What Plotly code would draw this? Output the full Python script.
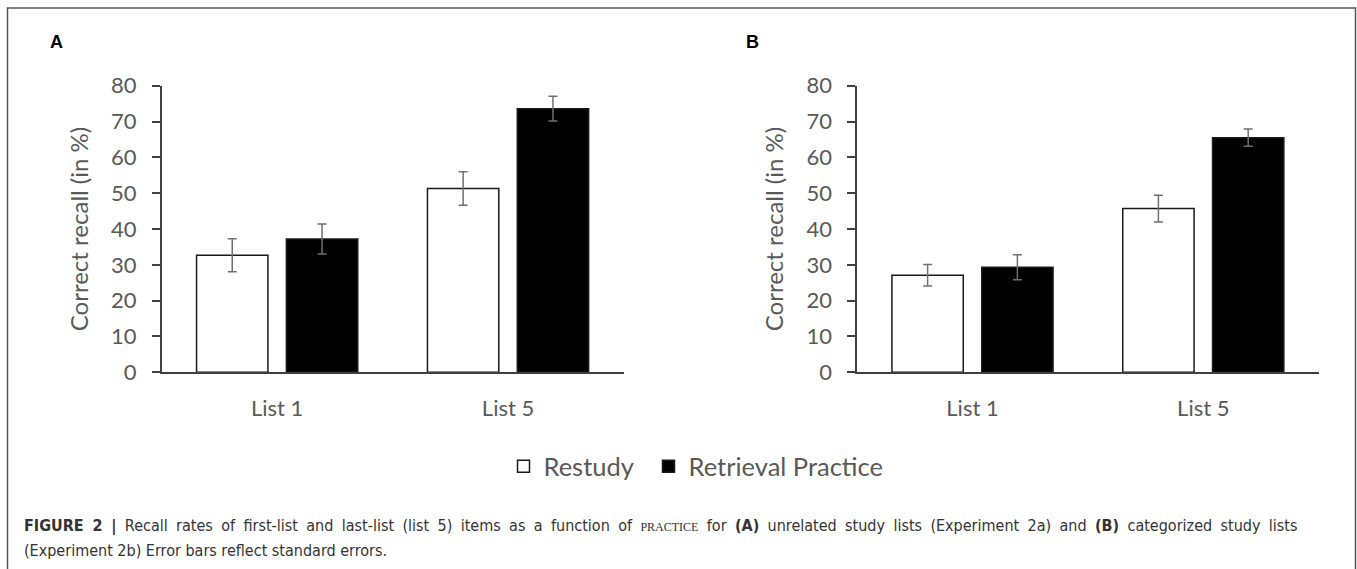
import plotly.graph_objects as go

W, H = 1357, 569

categories = ["List 1", "List 5"]
series_names = ["Restudy", "Retrieval Practice"]

# Panel A: unrelated study lists (Experiment 2a)
a_restudy = [32.7, 51.3]
a_restudy_se = [4.6, 4.65]
a_retrieval = [37.2, 73.6]
a_retrieval_se = [4.2, 3.45]

# Panel B: categorized study lists (Experiment 2b)
b_restudy = [27.1, 45.7]
b_restudy_se = [3.0, 3.75]
b_retrieval = [29.3, 65.5]
b_retrieval_se = [3.5, 2.4]

y_ticks = [0, 10, 20, 30, 40, 50, 60, 70, 80]

GRAY = "#595959"
AXIS = "#404040"
TICKFONT = "Lato, Calibri, 'Open Sans', sans-serif"
CAPFONT = "'Liberation Sans Narrow', 'DejaVu Sans Condensed', Arial, sans-serif"


def px_x(v):
    return v / W


def px_y(v):
    return 1 - v / H


fig = go.Figure()

panels = [
    ("x", "y", a_restudy, a_restudy_se, a_retrieval, a_retrieval_se, True),
    ("x2", "y2", b_restudy, b_restudy_se, b_retrieval, b_retrieval_se, False),
]

for xa, ya, rs, rs_se, rp, rp_se, show in panels:
    fig.add_trace(go.Bar(
        x=categories, y=rs, name=series_names[0], xaxis=xa, yaxis=ya,
        marker=dict(color="white", line=dict(color="#1a1a1a", width=1.5)),
        error_y=dict(type="data", array=rs_se, visible=True, color="#707070", thickness=1.5, width=4.5),
        legendgroup="restudy", showlegend=show, legendwidth=100,
    ))
    fig.add_trace(go.Bar(
        x=categories, y=rp, name=series_names[1], xaxis=xa, yaxis=ya,
        marker=dict(color="black", line=dict(color="#1a1a1a", width=1.5)),
        error_y=dict(type="data", array=rp_se, visible=True, color="#707070", thickness=1.5, width=4.5),
        legendgroup="retrieval", showlegend=show,
    ))

xdomA = [px_x(161.7), px_x(623.5)]
xdomB = [px_x(857.1), px_x(1318.7)]
ydom = [px_y(372.3), px_y(85.7)]

xaxis_common = dict(
    showline=True, linecolor=AXIS, linewidth=1.5, showgrid=False, zeroline=False,
    ticks="", tickfont=dict(family=TICKFONT, size=22, color=GRAY),
    ticklabelstandoff=16, fixedrange=True, automargin=False,
)
yaxis_common = dict(
    range=[0, 80], tickvals=y_ticks, showline=True, linecolor=AXIS, linewidth=1.5,
    showgrid=False, zeroline=False, ticks="outside", ticklen=8, tickcolor=AXIS, tickwidth=1.5,
    tickfont=dict(family=TICKFONT, size=22, color=GRAY), ticklabelstandoff=11,
    title=dict(text="Correct recall (in %)", font=dict(family=TICKFONT, size=24, color=GRAY), standoff=16),
    fixedrange=True, automargin=False,
)

fig.update_layout(
    width=W, height=H,
    margin=dict(l=0, r=0, t=0, b=0, autoexpand=False),
    paper_bgcolor="white", plot_bgcolor="white",
    barmode="group", bargap=0.222, bargroupgap=0.2056,
    xaxis=dict(domain=xdomA, anchor="y", **xaxis_common),
    yaxis=dict(domain=ydom, anchor="x", **yaxis_common),
    xaxis2=dict(domain=xdomB, anchor="y2", **xaxis_common),
    yaxis2=dict(domain=ydom, anchor="x2", **yaxis_common),
    legend=dict(
        orientation="h", x=px_x(696), xanchor="center", y=px_y(466.7), yanchor="middle",
        font=dict(family=TICKFONT, size=25.5, color=GRAY), bgcolor="rgba(0,0,0,0)",
        itemclick=False, itemdoubleclick=False,
    ),
    showlegend=True,
)

annotations = [
    dict(text="<b>A</b>", x=px_x(56), y=px_y(42.5), xref="paper", yref="paper",
         xanchor="center", yanchor="middle",
         showarrow=False, font=dict(family="Liberation Sans, Arial, sans-serif", size=18, color="black")),
    dict(text="<b>B</b>", x=px_x(752), y=px_y(42.5), xref="paper", yref="paper",
         xanchor="center", yanchor="middle",
         showarrow=False, font=dict(family="Liberation Sans, Arial, sans-serif", size=18, color="black")),
    dict(
        text=("<span style='word-spacing:3.8px'><b>FIGURE 2 |</b> Recall rates of first-list and last-list (list 5) items as a function of "
              "<span style='font-family:Liberation Serif, serif; font-size:12px'>PRACTICE</span> for "
              "<b>(A)</b> unrelated study lists (Experiment 2a) and <b>(B)</b> categorized study lists</span>"),
        x=px_x(22), y=px_y(526), xref="paper", yref="paper", xanchor="left", yanchor="middle",
        showarrow=False, align="left",
        font=dict(family=CAPFONT, size=16, color="#333333"),
    ),
    dict(
        text="(Experiment 2b) Error bars reflect standard errors.",
        x=px_x(22), y=px_y(550), xref="paper", yref="paper", xanchor="left", yanchor="middle",
        showarrow=False, align="left",
        font=dict(family=CAPFONT, size=16, color="#333333"),
    ),
]
fig.update_layout(annotations=annotations)

fig.add_shape(type="rect", xref="paper", yref="paper",
              x0=px_x(7.5), x1=px_x(1355.5), y0=-0.05, y1=px_y(8),
              line=dict(color="#555555", width=1.5), fillcolor="rgba(0,0,0,0)", layer="above")

fig.write_html(
    "out.html",
    config={"displayModeBar": False},
    post_script=(
        "var d=document.getElementById('{plot_id}');"
        "d.style.position='fixed';d.style.top='0';d.style.left='0';"
        "document.body.style.margin='0';document.body.style.overflow='hidden';"
    ),
)
